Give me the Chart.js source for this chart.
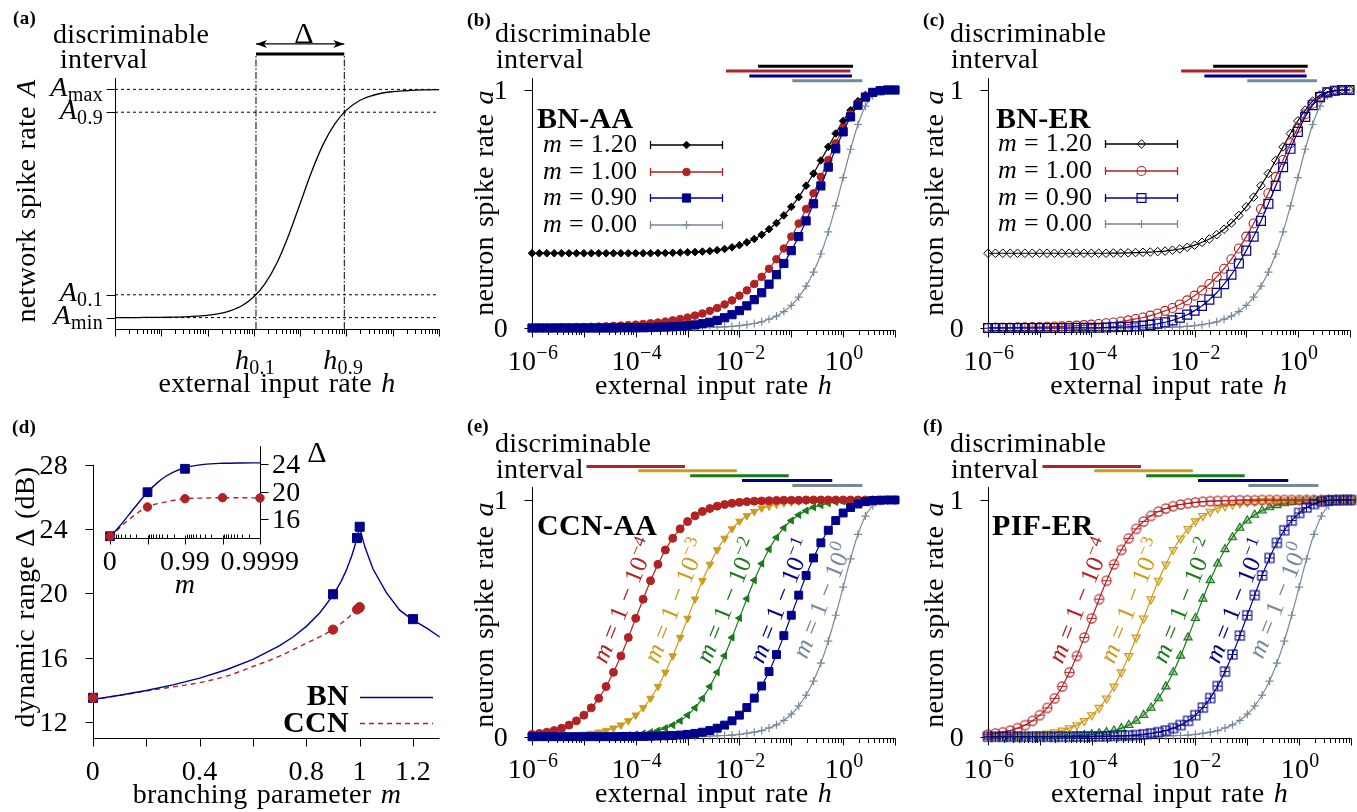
<!DOCTYPE html>
<html lang="en">
<head>
<meta charset="utf-8">
<title>Dynamic range of branching and compensated networks</title>
<script src="https://cdn.jsdelivr.net/npm/chart.js@4.4.1/dist/chart.umd.min.js"></script>
<style>
  html, body { margin: 0; padding: 0; background: #ffffff; }
  #figure { position: relative; width: 1357px; height: 812px; overflow: hidden; background: #ffffff; }
  #figure canvas { position: absolute; left: 0; top: 0; }
</style>
</head>
<body>
<div id="figure">
  <canvas id="panelA" width="1357" height="812"></canvas>
  <canvas id="panelB" width="1357" height="812"></canvas>
  <canvas id="panelC" width="1357" height="812"></canvas>
  <canvas id="panelD" width="1357" height="812"></canvas>
  <canvas id="panelDInset" width="1357" height="812"></canvas>
  <canvas id="panelE" width="1357" height="812"></canvas>
  <canvas id="panelF" width="1357" height="812"></canvas>
</div>
<script>
// ================= data =================

// (a) schematic response: network rate A versus log10 of the input rate h
const SCHEMATIC_LOG_H = [-4, -3.75, -3.5, -3.25, -3, -2.75, -2.5, -2.25, -2, -1.75, -1.5, -1.25, -1, -0.75,
  -0.5, -0.25, 0, 0.25, 0.5, 0.75, 1, 1.25, 1.5, 1.75, 2, 2.25, 2.5, 2.75, 3];
const SCHEMATIC_RATE = [0.050, 0.050, 0.050, 0.051, 0.051, 0.052, 0.053, 0.056, 0.060, 0.067, 0.081, 0.103,
  0.141, 0.201, 0.290, 0.410, 0.550, 0.690, 0.810, 0.899, 0.959, 0.997, 1.019, 1.033, 1.040, 1.044, 1.047,
  1.048, 1.049];
const SCHEMATIC_LEVELS = [0.05, 0.15, 0.95, 1.05];
const SCHEMATIC_LEVEL_SUBS = ['min', '0.1', '0.9', 'max'];
const SCHEMATIC_THRESH_LOG_H = [-0.954, 0.954];
const SCHEMATIC_THRESH_SUBS = ['0.1', '0.9'];

// (b,c,e,f) log10 of the external input rate h at which the curves are sampled
const LOG_H = [
  -6.000, -5.857, -5.714, -5.571, -5.429, -5.286, -5.143,
  -5.000, -4.857, -4.714, -4.571, -4.429, -4.286, -4.143,
  -4.000, -3.857, -3.714, -3.571, -3.429, -3.286, -3.143,
  -3.000, -2.857, -2.714, -2.571, -2.429, -2.286, -2.143,
  -2.000, -1.857, -1.714, -1.571, -1.429, -1.286, -1.143,
  -1.000, -0.857, -0.714, -0.571, -0.429, -0.286, -0.143,
   0.000,  0.143,  0.286,  0.429,  0.571,  0.714,  0.857,
   1.000];
const X_TICK_DECADES = [-6, -4, -2, 0];
const X_TICK_EXPONENTS = ['\u22126', '\u22124', '\u22122', '0'];
const Y_TICKS = [0, 1];
const Y_TICK_LABELS = ['0', '1'];

// branching networks (b: BN-AA, c: BN-ER): neuron spike rate a
const BN_M_LABELS = ['1.20', '1.00', '0.90', '0.00'];
const BN_RATE_M120 = [
  0.314, 0.314, 0.314, 0.314, 0.314, 0.314, 0.314,
  0.314, 0.314, 0.314, 0.314, 0.314, 0.314, 0.314,
  0.314, 0.314, 0.314, 0.315, 0.315, 0.316, 0.317,
  0.318, 0.319, 0.321, 0.323, 0.327, 0.332, 0.339,
  0.348, 0.360, 0.374, 0.392, 0.415, 0.441, 0.473,
  0.509, 0.550, 0.598, 0.649, 0.704, 0.761, 0.817,
  0.870, 0.915, 0.953, 0.979, 0.992, 0.998, 1.000,
  1.000];
const BN_RATE_M100 = [
  0.001, 0.002, 0.002, 0.002, 0.003, 0.003, 0.004,
  0.004, 0.005, 0.006, 0.007, 0.009, 0.010, 0.012,
  0.014, 0.017, 0.020, 0.023, 0.027, 0.032, 0.038,
  0.044, 0.052, 0.061, 0.072, 0.084, 0.099, 0.116,
  0.136, 0.158, 0.185, 0.215, 0.249, 0.289, 0.334,
  0.384, 0.439, 0.500, 0.566, 0.635, 0.706, 0.776,
  0.841, 0.898, 0.942, 0.973, 0.990, 0.997, 1.000,
  1.000];
const BN_RATE_M090 = [
  0.000, 0.000, 0.000, 0.000, 0.000, 0.000, 0.000,
  0.000, 0.000, 0.000, 0.000, 0.000, 0.001, 0.001,
  0.001, 0.001, 0.002, 0.003, 0.004, 0.005, 0.007,
  0.010, 0.013, 0.018, 0.024, 0.032, 0.043, 0.056,
  0.073, 0.093, 0.119, 0.148, 0.184, 0.224, 0.271,
  0.325, 0.384, 0.450, 0.522, 0.597, 0.676, 0.753,
  0.824, 0.887, 0.936, 0.970, 0.990, 0.997, 1.000,
  1.000];
const BN_RATE_M000 = [
  0.000, 0.000, 0.000, 0.000, 0.000, 0.000, 0.000,
  0.000, 0.000, 0.000, 0.000, 0.000, 0.000, 0.000,
  0.000, 0.000, 0.000, 0.000, 0.000, 0.001, 0.001,
  0.001, 0.001, 0.002, 0.003, 0.004, 0.005, 0.007,
  0.010, 0.014, 0.019, 0.026, 0.037, 0.050, 0.069,
  0.095, 0.130, 0.176, 0.235, 0.311, 0.404, 0.513,
  0.632, 0.751, 0.855, 0.932, 0.976, 0.994, 0.999,
  1.000];
// discriminable intervals [log10 h_0.1, log10 h_0.9] for m = 1.2, 1.0, 0.9, 0
const BN_INTERVALS = [[-1.64, 0.19], [-2.26, 0.14], [-1.81, 0.17], [-0.98, 0.37]];

// compensated networks (e: CCN-AA, f: PIF-ER), m = 1 - 10^k
const CCN_EXPONENTS = ['\u22124', '\u22123', '\u22122', '\u22121', '0'];
const CCN_RATE_K4 = [
  0.010, 0.014, 0.019, 0.026, 0.036, 0.049, 0.067,
  0.091, 0.122, 0.162, 0.212, 0.272, 0.341, 0.419,
  0.500, 0.581, 0.659, 0.728, 0.789, 0.838, 0.878,
  0.909, 0.933, 0.951, 0.964, 0.974, 0.981, 0.986,
  0.990, 0.993, 0.995, 0.996, 0.997, 0.998, 0.999,
  0.999, 0.999, 1.000, 1.000, 1.000, 1.000, 1.000,
  1.000, 1.000, 1.000, 1.000, 1.000, 1.000, 1.000,
  1.000];
const CCN_RATE_K3 = [
  0.001, 0.001, 0.002, 0.003, 0.004, 0.005, 0.007,
  0.010, 0.014, 0.019, 0.026, 0.036, 0.049, 0.067,
  0.091, 0.122, 0.162, 0.212, 0.272, 0.341, 0.419,
  0.500, 0.581, 0.659, 0.728, 0.789, 0.838, 0.878,
  0.910, 0.933, 0.951, 0.965, 0.974, 0.981, 0.987,
  0.991, 0.994, 0.996, 0.997, 0.998, 0.999, 0.999,
  1.000, 1.000, 1.000, 1.000, 1.000, 1.000, 1.000,
  1.000];
const CCN_RATE_K2 = [
  0.000, 0.000, 0.000, 0.000, 0.000, 0.001, 0.001,
  0.001, 0.001, 0.002, 0.003, 0.004, 0.005, 0.007,
  0.010, 0.014, 0.019, 0.026, 0.036, 0.049, 0.067,
  0.091, 0.122, 0.162, 0.212, 0.272, 0.342, 0.419,
  0.501, 0.583, 0.661, 0.731, 0.792, 0.842, 0.882,
  0.913, 0.937, 0.955, 0.969, 0.978, 0.986, 0.991,
  0.994, 0.996, 0.998, 0.999, 1.000, 1.000, 1.000,
  1.000];
const CCN_RATE_K1 = [
  0.000, 0.000, 0.000, 0.000, 0.000, 0.000, 0.000,
  0.000, 0.000, 0.000, 0.000, 0.000, 0.001, 0.001,
  0.001, 0.001, 0.002, 0.003, 0.004, 0.005, 0.007,
  0.010, 0.014, 0.019, 0.026, 0.036, 0.049, 0.067,
  0.091, 0.123, 0.163, 0.214, 0.275, 0.347, 0.427,
  0.513, 0.598, 0.681, 0.755, 0.819, 0.872, 0.913,
  0.945, 0.968, 0.983, 0.993, 0.998, 0.999, 1.000,
  1.000];
const CCN_RATE_K0 = [
  0.000, 0.000, 0.000, 0.000, 0.000, 0.000, 0.000,
  0.000, 0.000, 0.000, 0.000, 0.000, 0.000, 0.000,
  0.000, 0.000, 0.000, 0.000, 0.000, 0.001, 0.001,
  0.001, 0.001, 0.002, 0.003, 0.004, 0.005, 0.007,
  0.010, 0.014, 0.019, 0.026, 0.037, 0.050, 0.069,
  0.095, 0.130, 0.176, 0.235, 0.311, 0.404, 0.513,
  0.632, 0.751, 0.855, 0.932, 0.976, 0.994, 0.999,
  1.000];
const CCN_INTERVALS = [[-4.95, -3.05], [-3.95, -2.05], [-2.95, -1.05], [-1.95, -0.21], [-0.98, 0.37]];

// (d) dynamic range versus branching parameter m
const DR_BN_CURVE_M = [0, 0.1, 0.2, 0.3, 0.4, 0.5, 0.6, 0.7, 0.75, 0.8, 0.85, 0.9, 0.93, 0.95, 0.97, 0.98,
  0.99, 0.995, 1.0, 1.005, 1.01, 1.02, 1.05, 1.1, 1.15, 1.2, 1.25, 1.3];
const DR_BN_CURVE = [13.40, 13.66, 13.96, 14.31, 14.73, 15.25, 15.90, 16.75, 17.29, 17.95, 18.78, 19.88,
  20.74, 21.45, 22.33, 22.86, 23.46, 23.81, 24.18, 23.80, 23.46, 22.87, 21.52, 20.05, 18.96, 18.34, 17.86, 17.29];
const DR_BN_POINTS_M = [0, 0.9, 0.99, 1.0, 1.2];
const DR_BN_POINTS = [13.5, 19.95, 23.45, 24.15, 18.4];
const DR_CCN_CURVE_M = [0, 0.1, 0.2, 0.3, 0.4, 0.5, 0.6, 0.7, 0.8, 0.85, 0.9, 0.95, 0.98, 0.99, 0.995];
const DR_CCN_CURVE = [13.4, 13.65, 13.93, 14.18, 14.45, 14.85, 15.45, 16.1, 16.9, 17.3, 17.75, 18.4, 18.85, 19.0, 19.05];
const DR_CCN_POINTS_M = [0, 0.9, 0.99, 0.999, 0.9999];
const DR_CCN_POINTS = [13.5, 17.75, 19.0, 19.1, 19.15];
const DR_X_TICKS = [0, 0.2, 0.4, 0.6, 0.8, 1.0, 1.2];
const DR_X_TICK_LABELS = ['0', '', '0.4', '', '0.8', '1', '1.2'];
const DR_Y_TICKS = [12, 16, 20, 24, 28];

// (d, inset) dynamic range versus k = -log10(1 - m)
const INSET_BN_CURVE_K = [0, 0.25, 0.5, 0.75, 1, 1.25, 1.5, 1.75, 2, 2.5, 3, 3.5, 4];
const INSET_BN_CURVE = [13.40, 14.91, 16.60, 18.29, 19.88, 21.22, 22.25, 22.98, 23.46, 23.94, 24.10, 24.15, 24.17];
const INSET_BN_POINTS_K = [0, 1, 2];
const INSET_BN_POINTS = [13.5, 19.9, 23.3];
const INSET_CCN_CURVE_K = [0, 0.5, 1, 1.5, 2, 2.5, 3, 3.5, 4];
const INSET_CCN_CURVE = [13.4, 15.9, 17.75, 18.5, 18.95, 19.05, 19.1, 19.1, 19.05];
const INSET_CCN_POINTS_K = [0, 1, 2, 3, 4];
const INSET_CCN_POINTS = [13.5, 17.75, 18.95, 19.1, 19.05];
const INSET_X_TICK_K = [0, 1, 2, 3, 4];
const INSET_X_TICK_LABELS = ['0', '', '0.99', '', '0.9999'];
const INSET_Y_TICKS = [16, 20, 24];

// ================= styling helpers =================
const SERIF = '"Liberation Serif", "Times New Roman", serif';
const BASE = 28;
const C = {
  black: '#000000', red: '#b22222', blue: '#00008b', gray: '#778899',
  gold: '#cd9b1d', green: '#1a7a1a'
};

const rm = (t, size = BASE) => ({ t, f: `${size}px ${SERIF}` });
const it = (t, size = BASE) => ({ t, f: `italic ${size}px ${SERIF}` });
const bd = (t, size = 30) => ({ t, f: `bold ${size}px ${SERIF}` });
const sub = (t, size = 20, dy = 5) => ({ t, f: `${size}px ${SERIF}`, dy });
const sup = (t, size = 20, dy = -11) => ({ t, f: `${size}px ${SERIF}`, dy });

function drawText(ctx, parts, x, y, align = 'left', angle = 0, color = '#000') {
  ctx.save();
  if ('letterSpacing' in ctx) ctx.letterSpacing = '0.3px';
  if ('wordSpacing' in ctx) ctx.wordSpacing = '2px';
  ctx.translate(x, y);
  if (angle) ctx.rotate(angle);
  ctx.textAlign = 'left';
  ctx.textBaseline = 'alphabetic';
  let total = 0;
  const widths = parts.map(p => { ctx.font = p.f; const w = ctx.measureText(p.t).width; total += w; return w; });
  let cx = align === 'center' ? -total / 2 : align === 'right' ? -total : 0;
  parts.forEach((p, i) => {
    ctx.font = p.f;
    ctx.fillStyle = p.c || color;
    ctx.fillText(p.t, cx, p.dy || 0);
    cx += widths[i];
  });
  ctx.restore();
}

function seg(ctx, x1, y1, x2, y2, color = '#000', width = 1, dash = []) {
  ctx.save();
  ctx.strokeStyle = color;
  ctx.lineWidth = width;
  ctx.setLineDash(dash);
  ctx.beginPath();
  ctx.moveTo(x1, y1);
  ctx.lineTo(x2, y2);
  ctx.stroke();
  ctx.restore();
}
const crisp = v => Math.round(v) + 0.5;

function drawMarker(ctx, mk, color, x, y) {
  ctx.save();
  ctx.strokeStyle = color;
  ctx.fillStyle = mk.fill;
  ctx.lineWidth = mk.bw;
  ctx.beginPath();
  const r = mk.r;
  if (mk.style === 'circle') {
    ctx.arc(x, y, r, 0, Math.PI * 2);
  } else if (mk.style === 'rect') {
    const s = r * Math.SQRT1_2;
    ctx.rect(x - s, y - s, 2 * s, 2 * s);
  } else if (mk.style === 'rectRot') {
    ctx.moveTo(x - r, y); ctx.lineTo(x, y - r); ctx.lineTo(x + r, y); ctx.lineTo(x, y + r); ctx.closePath();
  } else {
    ctx.moveTo(x - r, y); ctx.lineTo(x + r, y); ctx.moveTo(x, y - r); ctx.lineTo(x, y + r);
    ctx.stroke(); ctx.restore(); return;
  }
  ctx.fill();
  ctx.stroke();
  ctx.restore();
}

function markerImage(size, paint) {
  const c = document.createElement('canvas');
  c.width = size; c.height = size;
  paint(c.getContext('2d'), size / 2);
  return c;
}
const CIRCLE_BAR = markerImage(13, (g, m) => {
  g.strokeStyle = C.red; g.lineWidth = 1.1;
  g.beginPath(); g.arc(m, m, 4.6, 0, 2 * Math.PI); g.moveTo(m - 4.6, m); g.lineTo(m + 4.6, m); g.stroke();
});
const SQUARE_CROSS = markerImage(13, (g, m) => {
  g.strokeStyle = C.blue; g.lineWidth = 1.1;
  g.strokeRect(m - 4.5, m - 4.5, 9, 9);
  g.beginPath(); g.moveTo(m - 4.5, m); g.lineTo(m + 4.5, m); g.moveTo(m, m - 4.5); g.lineTo(m, m + 4.5); g.stroke();
});

// ================= chart helpers =================
const W = 1357, H = 812;

function makeChart(id, area, xScale, yScale, datasets, plugin) {
  return new Chart(document.getElementById(id), {
    type: 'scatter',
    data: { datasets },
    options: {
      responsive: false,
      animation: false,
      devicePixelRatio: 1,
      events: [],
      layout: { padding: { left: area.left, top: area.top, right: W - area.right, bottom: H - area.bottom } },
      scales: {
        x: Object.assign({ display: false, bounds: 'data' }, xScale),
        y: Object.assign({ type: 'linear', display: false, bounds: 'data' }, yScale)
      },
      plugins: { legend: { display: false }, tooltip: { enabled: false } }
    },
    plugins: [plugin]
  });
}

function curveSet(points, color, mk, extra = {}) {
  return Object.assign({
    data: points, showLine: true, borderColor: color, borderWidth: 1.2,
    cubicInterpolationMode: 'monotone',
    pointStyle: mk.style, pointRadius: mk.r, pointRotation: mk.rot || 0,
    pointBackgroundColor: mk.fill, pointBorderColor: color, pointBorderWidth: mk.bw,
    clip: false
  }, extra);
}
function lineSet(points, color, width, dash = [], extra = {}) {
  return Object.assign({
    data: points, showLine: true, borderColor: color, borderWidth: width, borderDash: dash,
    pointRadius: 0, borderCapStyle: 'butt', clip: false
  }, extra);
}
const ratePoints = vals => vals.map((v, i) => ({ x: 10 ** LOG_H[i], y: v }));
const intervalPoints = (iv, level) => [{ x: 10 ** iv[0], y: level }, { x: 10 ** iv[1], y: level }];

// axes, ticks and shared labels of the response-curve panels
function responseAxes(chart, yTop) {
  const { ctx, chartArea: ca, scales: { x, y } } = chart;
  const ay = Math.round(ca.bottom) - 0.5, ax = Math.round(ca.left) + 0.5;
  seg(ctx, ca.left, ay, ca.right + 0.5, ay);
  seg(ctx, ax, ay, ax, y.getPixelForValue(yTop));
  for (let d = -6; d <= 1; d++) {
    const px = crisp(x.getPixelForValue(10 ** d));
    seg(ctx, px, ay, px, ay + 7);
    if (d < 1) {
      for (let k = 2; k <= 9; k++) {
        const p = crisp(x.getPixelForValue(k * 10 ** d));
        seg(ctx, p, ay, p, ay + 4.5);
      }
    }
  }
  Y_TICKS.forEach(v => { const py = crisp(y.getPixelForValue(v)); seg(ctx, ax - 8, py, ax, py); });
}
function responseLabels(chart, L) {
  const { ctx, chartArea: ca, scales: { x, y } } = chart;
  drawText(ctx, [bd(L.tag[2], 19)], L.tag[0], L.tag[1]);
  drawText(ctx, [rm('discriminable')], L.disc[0], L.disc[1]);
  drawText(ctx, [rm('interval')], L.intv[0], L.intv[1]);
  X_TICK_DECADES.forEach((d, i) => {
    drawText(ctx, [rm('10'), sup(X_TICK_EXPONENTS[i])], x.getPixelForValue(10 ** d) + 1, ca.bottom + 39, 'center');
  });
  Y_TICKS.forEach((v, i) => drawText(ctx, [rm(Y_TICK_LABELS[i])], ca.left - 24, y.getPixelForValue(v) + 9, 'right'));
  drawText(ctx, [rm('external input rate '), it('h')], (ca.left + ca.right) / 2, ca.bottom + 63, 'center');
  drawText(ctx, [rm('neuron spike rate '), it('a')], L.yTitleX, L.yTitleY, 'center', -Math.PI / 2);
  drawText(ctx, [bd(L.title)], L.titlePos[0], L.titlePos[1]);
}

// ================= (a) schematic =================
(function () {
  const area = { left: 115, top: 20, right: 439, bottom: 329 };
  const BAR_Y = 1.205, ARROW_Y = 1.249;
  const [t0, t1] = SCHEMATIC_THRESH_LOG_H;
  const datasets = [
    lineSet(SCHEMATIC_LOG_H.map((e, i) => ({ x: 10 ** e, y: SCHEMATIC_RATE[i] })), C.black, 1.3, [],
      { cubicInterpolationMode: 'monotone' }),
    ...SCHEMATIC_LEVELS.map(v => lineSet([{ x: 1e-4, y: v }, { x: 1e3, y: v }], C.black, 1, [3, 3])),
    ...SCHEMATIC_THRESH_LOG_H.map(e => lineSet([{ x: 10 ** e, y: 0 }, { x: 10 ** e, y: BAR_Y }], C.black, 1, [7, 2, 1.5, 2])),
    lineSet(intervalPoints([t0, t1], BAR_Y), C.black, 3),
    lineSet(intervalPoints([t0, t1], ARROW_Y), C.black, 1.3)
  ];
  makeChart('panelA', area, { type: 'logarithmic', min: 1e-4, max: 1e3 }, { min: 0, max: 1.354 }, datasets, {
    id: 'schematicDecor',
    beforeDatasetsDraw(chart) {
      const { ctx, chartArea: ca, scales: { x, y } } = chart;
      const ay = Math.round(ca.bottom) + 0.5, ax = Math.round(ca.left) + 0.5;
      seg(ctx, ca.left, ay, ca.right + 0.5, ay);
      seg(ctx, ax, ay, ax, y.getPixelForValue(1.1));
      for (let d = -4; d <= 3; d++) {
        const px = crisp(x.getPixelForValue(10 ** d));
        seg(ctx, px, ay, px, ay + 7);
        if (d < 3) for (let k = 2; k <= 9; k++) {
          const p = crisp(x.getPixelForValue(k * 10 ** d));
          seg(ctx, p, ay, p, ay + 4.5);
        }
      }
      SCHEMATIC_LEVELS.forEach(v => { const py = crisp(y.getPixelForValue(v)); seg(ctx, ax - 9, py, ax, py); });
    },
    afterDatasetsDraw(chart) {
      const { ctx, chartArea: ca, scales: { x, y } } = chart;
      // arrow heads of the Delta span
      const xa = x.getPixelForValue(10 ** t0), xb = x.getPixelForValue(10 ** t1), ya = y.getPixelForValue(ARROW_Y);
      ctx.save();
      ctx.fillStyle = '#000';
      [[xa, 1], [xb, -1]].forEach(([px, s]) => {
        ctx.beginPath();
        ctx.moveTo(px, ya);
        ctx.lineTo(px + s * 11, ya - 4);
        ctx.lineTo(px + s * 8, ya);
        ctx.lineTo(px + s * 11, ya + 4);
        ctx.closePath();
        ctx.fill();
      });
      ctx.restore();
      drawText(ctx, [rm('\u0394', 30)], (xa + xb) / 2 + 4, ya - 1, 'center');
      drawText(ctx, [bd('(a)', 19)], 13, 24);
      drawText(ctx, [rm('discriminable')], 53, 43);
      drawText(ctx, [rm('interval')], 60, 68);
      SCHEMATIC_LEVELS.forEach((v, i) => {
        drawText(ctx, [it('A'), sub(SCHEMATIC_LEVEL_SUBS[i])], 103, y.getPixelForValue(v) + 6.5, 'right');
      });
      SCHEMATIC_THRESH_LOG_H.forEach((e, i) => {
        drawText(ctx, [it('h'), sub(SCHEMATIC_THRESH_SUBS[i])], x.getPixelForValue(10 ** e) - 1, 369, 'center');
      });
      drawText(ctx, [rm('external input rate '), it('h')], (ca.left + ca.right) / 2, 392, 'center');
      drawText(ctx, [rm('network spike rate '), it('A')], 35, 201, 'center', -Math.PI / 2);
    }
  });
})();

// ================= (b), (c) branching networks =================
function buildBN(id, L) {
  const series = [BN_RATE_M120, BN_RATE_M100, BN_RATE_M090, BN_RATE_M000];
  const colors = [C.black, C.red, C.blue, C.gray];
  const barLevels = [1.100, 1.080, 1.059, 1.039];
  const curves = [2, 1, 0, 3].map(i => curveSet(ratePoints(series[i]), colors[i], L.markers[i]));
  const bars = BN_INTERVALS.map((iv, i) => lineSet(intervalPoints(iv, barLevels[i]), colors[i], 3));
  makeChart(id, L.area, { type: 'logarithmic', min: 1e-6, max: 10 }, { min: -0.0126, max: 1.126 },
    [...curves, ...bars], {
      id: id + 'Decor',
      beforeDatasetsDraw(chart) { responseAxes(chart, 1.05); },
      afterDatasetsDraw(chart) {
        const { ctx } = chart;
        responseLabels(chart, L);
        BN_M_LABELS.forEach((lab, i) => {
          const base = L.rowBase[i], cy = base - 7;
          drawText(ctx, [it('m', 26), rm(' = ' + lab, 26)], L.rowX, base);
          const [x1, x2] = L.sample;
          seg(ctx, x1, cy, x2, cy, colors[i], 1.3);
          seg(ctx, x1 + 0.5, cy - 4, x1 + 0.5, cy + 4, colors[i], 1.3);
          seg(ctx, x2 - 0.5, cy - 4, x2 - 0.5, cy + 4, colors[i], 1.3);
          drawMarker(ctx, L.markers[i], colors[i], (x1 + x2) / 2, cy);
        });
      }
    });
}

buildBN('panelB', {
  area: { left: 532, top: 60, right: 895, bottom: 331 },
  tag: [467, 26, '(b)'], disc: [495, 42], intv: [496, 68], yTitleX: 493, yTitleY: 203,
  title: 'BN-AA', titlePos: [537, 128], rowX: 543, rowBase: [152, 179, 205, 232], sample: [650, 723],
  markers: [
    { style: 'rectRot', r: 3.8, fill: C.black, bw: 1 },
    { style: 'circle', r: 3.8, fill: C.red, bw: 1 },
    { style: 'rect', r: 5.8, fill: C.blue, bw: 1 },
    { style: 'cross', r: 4, fill: C.gray, bw: 1.2 }
  ]
});
buildBN('panelC', {
  area: { left: 988, top: 60, right: 1351, bottom: 331 },
  tag: [923, 26, '(c)'], disc: [950, 42], intv: [951, 68], yTitleX: 943, yTitleY: 203,
  title: 'BN-ER', titlePos: [996, 128], rowX: 998, rowBase: [151, 178, 205, 231], sample: [1105, 1178],
  markers: [
    { style: 'rectRot', r: 4.3, fill: 'rgba(0,0,0,0)', bw: 1 },
    { style: 'circle', r: 4.5, fill: 'rgba(0,0,0,0)', bw: 1.1 },
    { style: 'rect', r: 6.3, fill: 'rgba(0,0,0,0)', bw: 1.2 },
    { style: 'cross', r: 4, fill: C.gray, bw: 1.2 }
  ]
});

// ================= (e), (f) compensated networks =================
function buildCCN(id, L) {
  const series = [CCN_RATE_K4, CCN_RATE_K3, CCN_RATE_K2, CCN_RATE_K1, CCN_RATE_K0];
  const colors = [C.red, C.gold, C.green, C.blue, C.gray];
  const barLevels = [1.141, 1.123, 1.102, 1.082, 1.061];
  const curves = [3, 0, 1, 2, 4].map(i => curveSet(ratePoints(series[i]), colors[i], L.markers[i]));
  const bars = CCN_INTERVALS.map((iv, i) => lineSet(intervalPoints(iv, barLevels[i]), colors[i], 3));
  makeChart(id, L.area, { type: 'logarithmic', min: 1e-6, max: 10 }, { min: -0.0097, max: 1.19 },
    [...curves, ...bars], {
      id: id + 'Decor',
      beforeDatasetsDraw(chart) { responseAxes(chart, 1.055); },
      afterDatasetsDraw(chart) {
        const { ctx, scales: { x, y } } = chart;
        responseLabels(chart, L);
        const angle = -68 * Math.PI / 180;
        L.anchors.forEach(([lh, a], i) => {
          const px = x.getPixelForValue(10 ** lh), py = y.getPixelForValue(a);
          ctx.save();
          ctx.translate(px, py);
          ctx.rotate(angle);
          drawText(ctx, [it('m', 25), rm(' = 1 \u2212 10', 25), sup(CCN_EXPONENTS[i], 18, -10)], 0, 8, 'center', 0, colors[i]);
          ctx.restore();
        });
      }
    });
}
const CCN_ANCHORS = [[-4.23, 0.575], [-3.24, 0.575], [-2.23, 0.575], [-1.21, 0.575], [-0.41, 0.575]];

buildCCN('panelE', {
  area: { left: 532, top: 455, right: 895, bottom: 739 },
  tag: [467, 432, '(e)'], disc: [495, 452], intv: [496, 478], yTitleX: 493, yTitleY: 615,
  title: 'CCN-AA', titlePos: [537, 535], anchors: CCN_ANCHORS,
  markers: [
    { style: 'circle', r: 4, fill: C.red, bw: 1 },
    { style: 'triangle', r: 4.3, rot: 180, fill: C.gold, bw: 1 },
    { style: 'triangle', r: 4, rot: 270, fill: C.green, bw: 1 },
    { style: 'rect', r: 5.6, fill: C.blue, bw: 1 },
    { style: 'cross', r: 4, fill: C.gray, bw: 1.2 }
  ]
});
buildCCN('panelF', {
  area: { left: 988, top: 455, right: 1351, bottom: 739 },
  tag: [923, 432, '(f)'], disc: [950, 452], intv: [951, 478], yTitleX: 943, yTitleY: 615,
  title: 'PIF-ER', titlePos: [992, 535], anchors: CCN_ANCHORS,
  markers: [
    { style: CIRCLE_BAR, r: 4.5, fill: 'rgba(0,0,0,0)', bw: 1 },
    { style: 'triangle', r: 4.8, rot: 180, fill: 'rgba(205,155,29,0.3)', bw: 1.1 },
    { style: 'triangle', r: 4.8, fill: 'rgba(26,122,26,0.35)', bw: 1.1 },
    { style: SQUARE_CROSS, r: 4.5, fill: 'rgba(0,0,0,0)', bw: 1 },
    { style: 'cross', r: 4, fill: C.gray, bw: 1.2 }
  ]
});

// ================= (d) dynamic range =================
(function () {
  const area = { left: 93, top: 450, right: 439, bottom: 738 };
  const xy = (xs, ys) => xs.map((v, i) => ({ x: v, y: ys[i] }));
  const datasets = [
    curveSet(xy(DR_CCN_POINTS_M, DR_CCN_POINTS), C.red, { style: 'circle', r: 4.6, fill: C.red, bw: 1 }, { showLine: false }),
    curveSet(xy(DR_BN_POINTS_M, DR_BN_POINTS), C.blue, { style: 'rect', r: 6.4, fill: C.blue, bw: 1 }, { showLine: false }),
    lineSet(xy(DR_BN_CURVE_M, DR_BN_CURVE), C.blue, 1.4),
    lineSet(xy(DR_CCN_CURVE_M, DR_CCN_CURVE), C.red, 1.4, [5, 4], { cubicInterpolationMode: 'monotone' })
  ];
  makeChart('panelD', area, { type: 'linear', min: 0, max: 1.2974 }, { min: 11.0, max: 28.93 }, datasets, {
    id: 'rangeDecor',
    beforeDatasetsDraw(chart) {
      const { ctx, chartArea: ca, scales: { x, y } } = chart;
      const ay = Math.round(ca.bottom) + 0.5, ax = Math.round(ca.left) + 0.5;
      seg(ctx, ca.left, ay, ca.right + 0.5, ay);
      seg(ctx, ax, ay, ax, y.getPixelForValue(28));
      DR_X_TICKS.forEach(v => { const px = crisp(x.getPixelForValue(v)); seg(ctx, px, ay, px, ay + 8); });
      DR_Y_TICKS.forEach(v => { const py = crisp(y.getPixelForValue(v)); seg(ctx, ax - 8, py, ax, py); });
    },
    afterDatasetsDraw(chart) {
      const { ctx, scales: { x, y } } = chart;
      drawText(ctx, [bd('(d)', 19)], 12, 433);
      DR_X_TICKS.forEach((v, i) => {
        if (DR_X_TICK_LABELS[i]) drawText(ctx, [rm(DR_X_TICK_LABELS[i])], x.getPixelForValue(v), 780, 'center');
      });
      DR_Y_TICKS.forEach(v => drawText(ctx, [rm(String(v))], 68, y.getPixelForValue(v) + 9, 'right'));
      drawText(ctx, [rm('branching parameter '), it('m')], 267, 803, 'center');
      drawText(ctx, [rm('dynamic range \u0394 (dB)')], 34, 597, 'center', -Math.PI / 2);
      drawText(ctx, [bd('BN')], 349, 705, 'right');
      seg(ctx, 360, 697.5, 433, 697.5, C.blue, 1.4);
      drawText(ctx, [bd('CCN')], 349, 732, 'right');
      seg(ctx, 360, 723.5, 433, 723.5, C.red, 1.4, [5, 4]);
    }
  });
})();

// ================= (d) inset: dynamic range versus 1 - m =================
(function () {
  const area = { left: 110, top: 440, right: 260, bottom: 538 };
  const xy = (ks, ys) => ks.map((k, i) => ({ x: 10 ** -k, y: ys[i] }));
  const datasets = [
    curveSet(xy(INSET_CCN_POINTS_K, INSET_CCN_POINTS), C.red, { style: 'circle', r: 4.2, fill: C.red, bw: 1 }, { showLine: false }),
    curveSet(xy(INSET_BN_POINTS_K, INSET_BN_POINTS), C.blue, { style: 'rect', r: 6.2, fill: C.blue, bw: 1 }, { showLine: false }),
    lineSet(xy(INSET_BN_CURVE_K, INSET_BN_CURVE), C.blue, 1.4, [], { cubicInterpolationMode: 'monotone' }),
    lineSet(xy(INSET_CCN_CURVE_K, INSET_CCN_CURVE), C.red, 1.4, [5, 4], { cubicInterpolationMode: 'monotone' })
  ];
  makeChart('panelDInset', area, { type: 'logarithmic', min: 1e-4, max: 1, reverse: true }, { min: 13.24, max: 27.49 }, datasets, {
    id: 'insetDecor',
    beforeDatasetsDraw(chart) {
      const { ctx, chartArea: ca, scales: { x, y } } = chart;
      const ay = Math.round(ca.bottom) + 0.5, ax = Math.round(ca.right) + 0.5;
      seg(ctx, ca.left, ay, ax, ay);
      seg(ctx, ax, ay, ax, y.getPixelForValue(26.6));
      INSET_X_TICK_K.forEach(k => {
        const px = crisp(x.getPixelForValue(10 ** -k));
        seg(ctx, px, ay - 3, px, ay + 6);
        if (k < 4) for (let j = 2; j <= 9; j++) {
          const p = crisp(x.getPixelForValue(j * 10 ** -(k + 1)));
          seg(ctx, p, ay - 4, p, ay);
        }
      });
      INSET_Y_TICKS.forEach(v => { const py = crisp(y.getPixelForValue(v)); seg(ctx, ax, py, ax + 8, py); });
    },
    afterDatasetsDraw(chart) {
      const { ctx, scales: { x, y } } = chart;
      INSET_X_TICK_K.forEach((k, i) => {
        if (INSET_X_TICK_LABELS[i]) drawText(ctx, [rm(INSET_X_TICK_LABELS[i])], x.getPixelForValue(10 ** -k), 570, 'center');
      });
      INSET_Y_TICKS.forEach(v => drawText(ctx, [rm(String(v))], 272, y.getPixelForValue(v) + 9));
      drawText(ctx, [it('m')], 185, 593, 'center');
      drawText(ctx, [rm('\u0394', 30)], 317, 462, 'center');
    }
  });
})();
</script>
</body>
</html>
